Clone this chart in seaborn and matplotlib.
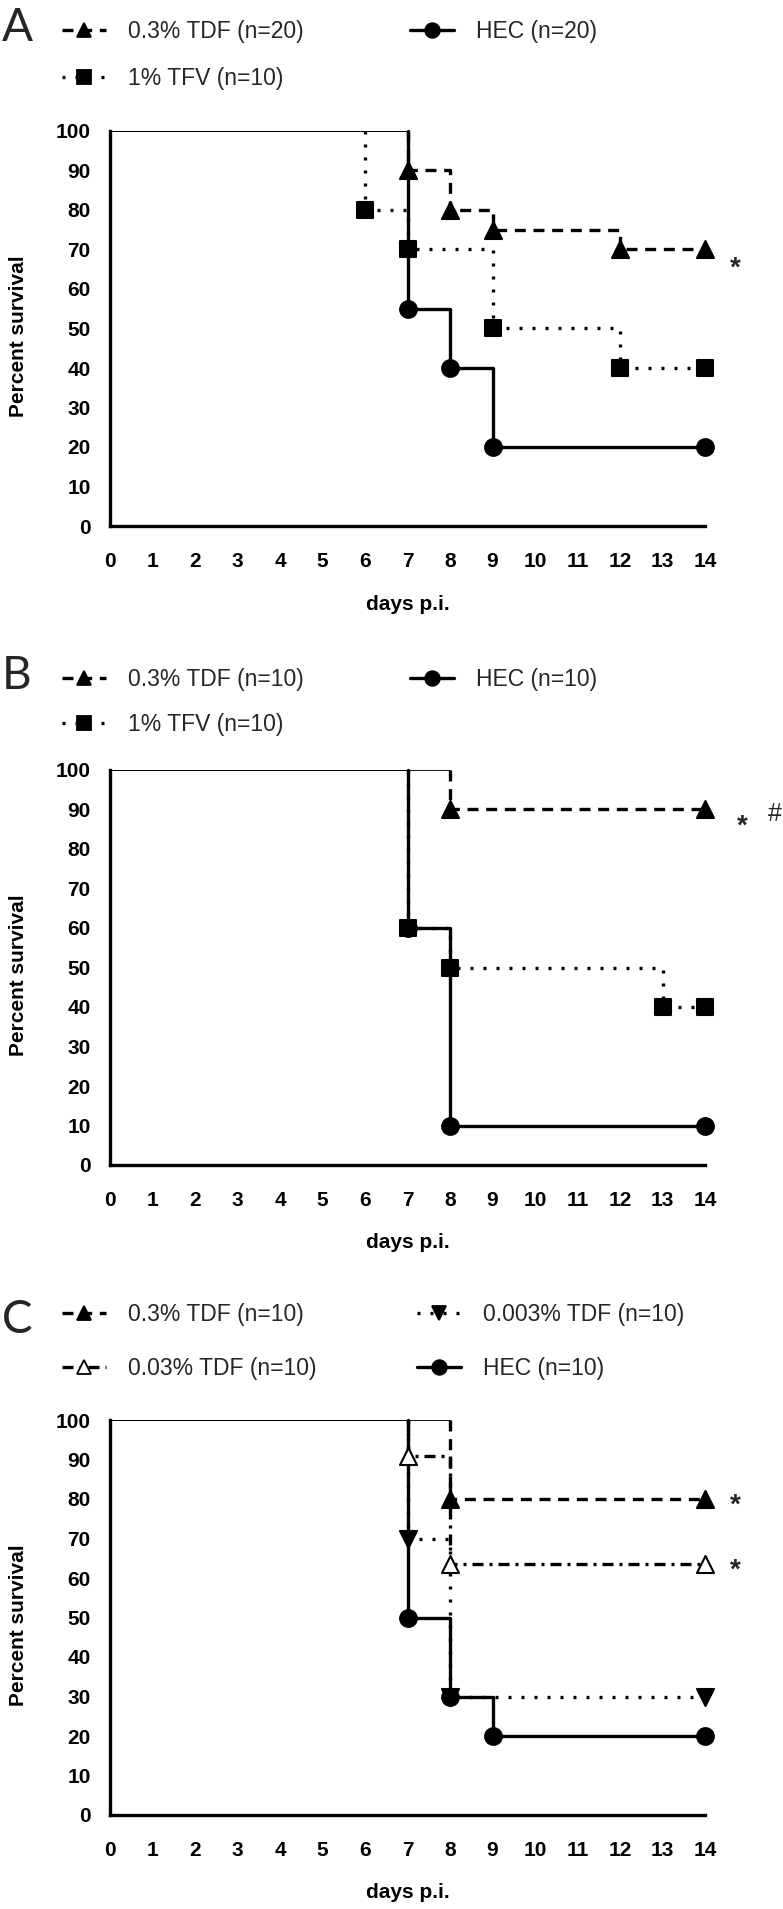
import matplotlib
matplotlib.use('Agg')
import matplotlib.pyplot as plt
from matplotlib.lines import Line2D
import seaborn as sns

# Kaplan-Meier steps: day of each drop and the percent surviving after it
a_tdf_days = [7, 8, 9, 12, 14]
a_tdf_pct = [90, 80, 75, 70, 70]
a_tfv_days = [6, 7, 9, 12, 14]
a_tfv_pct = [80, 70, 50, 40, 40]
a_hec_days = [7, 8, 9, 14]
a_hec_pct = [55, 40, 20, 20]

b_tdf_days = [8, 14]
b_tdf_pct = [90, 90]
b_tfv_days = [7, 8, 13, 14]
b_tfv_pct = [60, 50, 40, 40]
b_hec_days = [7, 8, 14]
b_hec_pct = [60, 10, 10]

c_tdf3_days = [8, 14]
c_tdf3_pct = [80, 80]
c_tdf03_days = [7, 8, 14]
c_tdf03_pct = [90.9, 63.6, 63.6]
c_tdf003_days = [7, 8, 14]
c_tdf003_pct = [70, 30, 30]
c_hec_days = [7, 8, 9, 14]
c_hec_pct = [50, 30, 20, 20]

x_ticks = list(range(0, 15))
y_ticks = list(range(0, 101, 10))

W, H = 783, 1909

sns.set_theme(style='white')
plt.rcParams['font.family'] = ['Liberation Sans', 'DejaVu Sans']
plt.rcParams['font.weight'] = 'bold'

styles = {
    'tdf': dict(ls=(0, (3.3, 2.3)), marker='^', face='black'),
    'tfv': dict(ls=(0, (0.9, 3.0)), marker='s', face='black'),
    'hec': dict(ls='-', marker='o', face='black'),
    'tdf03': dict(ls=(0, (3.3, 1.8, 0.9, 1.8)), marker='^', face='white'),
    'tdf003': dict(ls=(0, (0.9, 3.0)), marker='v', face='black'),
}
msize = {'^': 150, 'v': 150, 's': 125, 'o': 145}


def draw_curve(ax, days, pct, key, z):
    st = styles[key]
    # thin shared line at 100 % before the first death
    sns.lineplot(x=[0, days[0]], y=[100, 100], ax=ax, color='black', lw=1.3,
                 estimator=None, sort=False, zorder=z)
    xs = [days[0]] + days
    ys = [100] + pct
    sns.lineplot(x=xs, y=ys, ax=ax, color='black', lw=2.4, linestyle=st['ls'],
                 drawstyle='steps-post', estimator=None, sort=False,
                 dash_capstyle='butt', zorder=z, clip_on=False)
    sns.scatterplot(x=days, y=pct, ax=ax, marker=st['marker'], s=msize[st['marker']],
                    color=st['face'], edgecolor='black', linewidth=1.5,
                    zorder=z + 0.5, clip_on=False)


def style_axes(ax, top_px):
    ax.set_position([110 / W, 1 - (top_px + 395) / H, 595 / W, 395 / H])
    ax.set_xlim(0, 14)
    ax.set_ylim(0, 100)
    ax.set_xticks(x_ticks)
    ax.set_yticks(y_ticks)
    sns.despine(ax=ax)
    for s in ['left', 'bottom']:
        ax.spines[s].set_linewidth(2.4)
        ax.spines[s].set_color('black')
    ax.tick_params(axis='both', direction='out', length=8, width=2.4, color='black',
                   labelsize=15, labelcolor='black')
    ax.tick_params(axis='x', pad=11)
    ax.tick_params(axis='y', pad=6)
    ax.set_xlabel('days p.i.', fontsize=15, fontweight='bold', color='black')
    ax.set_ylabel('Percent survival', fontsize=15, fontweight='bold', color='black')
    ax.xaxis.set_label_coords(0.5, -78 / 395)
    ax.xaxis.label.set_va('center')
    ax.yaxis.set_label_coords(-92 / 595, 0.48)
    ax.yaxis.label.set_va('center')
    ax.grid(False)


def add_legend(fig, keys, labels, x_px, row1_px, spacing):
    handles = []
    for k in keys:
        st = styles[k]
        handles.append(Line2D([], [], color='black', lw=2.4, linestyle=st['ls'],
                              dash_capstyle='butt', marker=st['marker'],
                              markersize=10.5, markerfacecolor=st['face'],
                              markeredgecolor='black', markeredgewidth=1.3))
    leg = fig.legend(handles, labels, loc='upper left',
                     bbox_to_anchor=(x_px / W, 1 - (row1_px - 12) / H),
                     frameon=False, borderpad=0, borderaxespad=0,
                     handlelength=1.9, handletextpad=1.0, labelspacing=spacing,
                     prop={'size': 16.5, 'weight': 'normal'})
    return leg


fig = plt.figure(figsize=(W / 100, H / 100), dpi=100)

# panel A
axA = fig.add_axes([0, 0, 1, 1])
draw_curve(axA, a_hec_days, a_hec_pct, 'hec', 3)
draw_curve(axA, a_tfv_days, a_tfv_pct, 'tfv', 4)
draw_curve(axA, a_tdf_days, a_tdf_pct, 'tdf', 5)
style_axes(axA, 131)
axA.annotate('*', xy=(14, a_tdf_pct[-1]), xytext=(22, -14), textcoords='offset points',
             fontsize=20, fontweight='bold', ha='center', va='center', annotation_clip=False)
add_legend(fig, ['tdf', 'tfv'], ['0.3% TDF (n=20)', '1% TFV (n=10)'], 62, 32, 1.05)
add_legend(fig, ['hec'], ['HEC (n=20)'], 410, 32, 1.05)
fig.text(2 / W, 1 - 41 / H, 'A', fontsize=33, family='Lato', fontweight='normal',
         ha='left', va='baseline')

# panel B
axB = fig.add_axes([0, 0, 1, 1])
draw_curve(axB, b_hec_days, b_hec_pct, 'hec', 3)
draw_curve(axB, b_tfv_days, b_tfv_pct, 'tfv', 4)
draw_curve(axB, b_tdf_days, b_tdf_pct, 'tdf', 5)
style_axes(axB, 770)
axB.annotate('*', xy=(14, b_tdf_pct[-1]), xytext=(27, -12), textcoords='offset points',
             fontsize=20, fontweight='bold', ha='center', va='center', annotation_clip=False)
axB.annotate('#', xy=(14, b_tdf_pct[-1]), xytext=(50, -3), textcoords='offset points',
             fontsize=18, fontweight='normal', ha='center', va='center', annotation_clip=False)
add_legend(fig, ['tdf', 'tfv'], ['0.3% TDF (n=10)', '1% TFV (n=10)'], 62, 680, 0.95)
add_legend(fig, ['hec'], ['HEC (n=10)'], 410, 680, 0.95)
fig.text(2 / W, 1 - 689 / H, 'B', fontsize=33, family='Lato', fontweight='normal',
         ha='left', va='baseline')

# panel C
axC = fig.add_axes([0, 0, 1, 1])
draw_curve(axC, c_hec_days, c_hec_pct, 'hec', 3)
draw_curve(axC, c_tdf003_days, c_tdf003_pct, 'tdf003', 4)
draw_curve(axC, c_tdf03_days, c_tdf03_pct, 'tdf03', 5)
draw_curve(axC, c_tdf3_days, c_tdf3_pct, 'tdf', 6)
style_axes(axC, 1420)
for pct in [c_tdf3_pct[-1], c_tdf03_pct[-1]]:
    axC.annotate('*', xy=(14, pct), xytext=(22, -5), textcoords='offset points',
                 fontsize=20, fontweight='bold', ha='center', va='center',
                 annotation_clip=False)
add_legend(fig, ['tdf', 'tdf03'], ['0.3% TDF (n=10)', '0.03% TDF (n=10)'], 62, 1315, 1.35)
add_legend(fig, ['tdf003', 'hec'], ['0.003% TDF (n=10)', 'HEC (n=10)'], 417, 1315, 1.35)
fig.text(2 / W, 1 - 1333 / H, 'C', fontsize=33, family='Lato', fontweight='normal',
         ha='left', va='baseline')

fig.savefig('out.png', dpi=100, facecolor='white')
